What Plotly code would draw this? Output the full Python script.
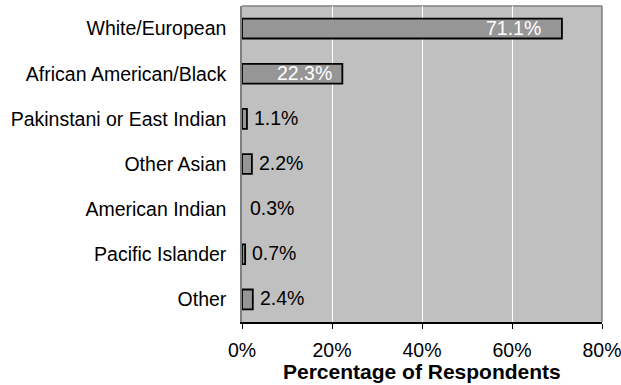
import plotly.graph_objects as go

categories = ["White/European", "African American/Black", "Pakinstani or East Indian",
              "Other Asian", "American Indian", "Pacific Islander", "Other"]
values = [71.1, 22.3, 1.1, 2.2, 0.3, 0.7, 2.4]
labels = ["71.1%", "22.3%", "1.1%", "2.2%", "0.3%", "0.7%", "2.4%"]
label_inside = [True, True, False, False, False, False, False]
inside_shift = [-19, -8, 0, 0, 0, 0, 0]
x_ticks = [0, 20, 40, 60, 80]
x_ticklabels = ["0%", "20%", "40%", "60%", "80%"]
x_title = "Percentage of Respondents"

FONT = "Liberation Sans, Arial, sans-serif"
FS = 19.5

# tiny bars (below ~0.5%) are not drawn in the original
outline_w = [0 if v < 0.5 else 1.8 for v in values]
fill_col = ["rgba(0,0,0,0)" if v < 0.5 else "#969696" for v in values]

fig = go.Figure()
fig.add_trace(go.Bar(
    y=categories, x=values, orientation="h", width=0.44,
    marker=dict(color=fill_col, line=dict(color="black", width=outline_w)),
    hoverinfo="skip",
))

for cat, v, lab, ins, sh in zip(categories, values, labels, label_inside, inside_shift):
    if ins:
        fig.add_annotation(x=v, y=cat, text=lab, showarrow=False, xanchor="right",
                           xshift=sh, yshift=1, font=dict(color="white", size=FS, family=FONT))
    else:
        fig.add_annotation(x=v, y=cat, text=lab, showarrow=False, xanchor="left",
                           xshift=5, yshift=1, font=dict(color="black", size=FS, family=FONT))

# axis title
fig.add_annotation(x=0.5, xref="x domain", y=0, yref="y domain", yanchor="middle",
                   yshift=-49, text="<b>" + x_title + "</b>", showarrow=False,
                   font=dict(size=21, family=FONT, color="black"))

# top and right border of plot area in gray
fig.add_shape(type="line", xref="x domain", yref="y domain", x0=0, x1=1, y0=1, y1=1,
              line=dict(color="#808080", width=1.5), layer="below")
fig.add_shape(type="line", xref="x domain", yref="y domain", x0=1, x1=1, y0=0, y1=1,
              line=dict(color="#808080", width=1.5), layer="below")

fig.update_layout(
    width=621, height=385,
    margin=dict(l=242, r=19, t=6, b=63),
    paper_bgcolor="white", plot_bgcolor="#C0C0C0",
    font=dict(family=FONT, size=FS, color="black"),
    showlegend=False,
)
fig.update_xaxes(
    range=[0, 80], tickvals=x_ticks, ticktext=x_ticklabels,
    showgrid=True, gridcolor="white", gridwidth=1,
    showline=True, linecolor="black", linewidth=1.5,
    ticks="outside", ticklen=5, tickcolor="black", tickwidth=1,
    ticklabelstandoff=5, ticklabeloverflow="allow",
    zeroline=False, automargin=False,
    fixedrange=True,
)
fig.update_yaxes(
    autorange="reversed", showgrid=False,
    showline=True, linecolor="#808080", linewidth=1.5,
    ticks="", ticklabelstandoff=10, fixedrange=True, automargin=False,
)

fig.write_html("out.html")
